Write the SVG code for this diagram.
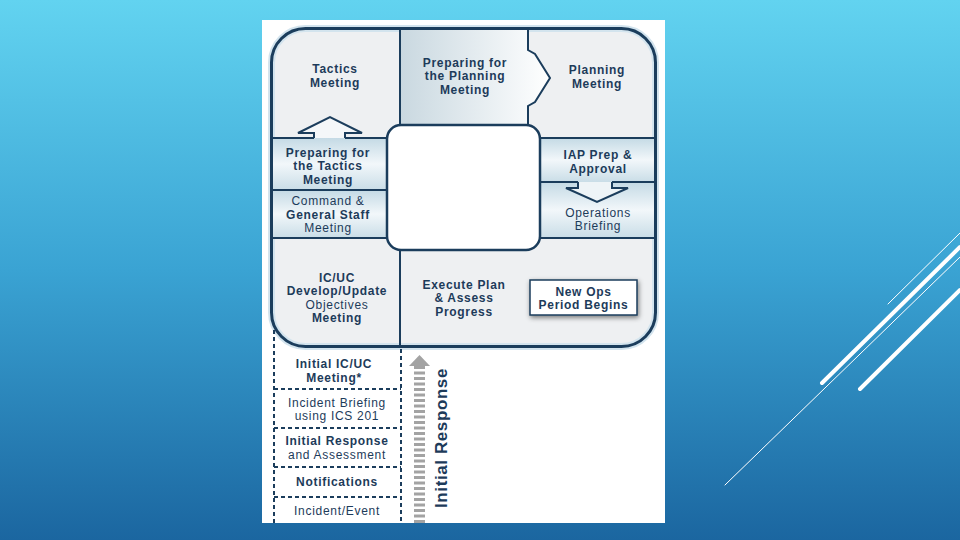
<svg xmlns="http://www.w3.org/2000/svg" width="960" height="540" viewBox="0 0 960 540">
<defs>
<linearGradient id="bg" x1="0" y1="0" x2="0" y2="1">
<stop offset="0" stop-color="#62d3f0"/>
<stop offset="0.5" stop-color="#3aa3d3"/>
<stop offset="1" stop-color="#1b66a0"/>
</linearGradient>
<linearGradient id="gh" x1="0" y1="0" x2="1" y2="0">
<stop offset="0" stop-color="#c9d8e0"/>
<stop offset="1" stop-color="#ffffff"/>
</linearGradient>
<linearGradient id="gv" x1="0" y1="0" x2="0" y2="1">
<stop offset="0" stop-color="#c4dae5"/>
<stop offset="0.5" stop-color="#f2f7fa"/>
<stop offset="1" stop-color="#c9dde7"/>
</linearGradient>
<filter id="sh" x="-20%" y="-30%" width="140%" height="160%">
<feGaussianBlur in="SourceAlpha" stdDeviation="2.5"/>
<feOffset dx="1" dy="2"/>
<feComponentTransfer><feFuncA type="linear" slope="0.5"/></feComponentTransfer>
<feMerge><feMergeNode/><feMergeNode in="SourceGraphic"/></feMerge>
</filter>
<style>
.t{font-family:"Liberation Sans",Arial,sans-serif;font-size:12px;letter-spacing:0.7px;font-weight:bold;fill:#1d3b5a;text-anchor:middle}
.n{font-weight:normal}
.ln{stroke:#1b3d5c;stroke-width:2;fill:none}
.dl{stroke:#1b3d5c;stroke-width:2;stroke-dasharray:4 3;fill:none}
.wl{stroke:#ffffff;fill:none;stroke-linecap:round}
</style>
</defs>
<rect x="0" y="0" width="960" height="540" fill="url(#bg)"/>
<g id="deco">
<line class="wl" x1="888" y1="304" x2="960" y2="233" stroke-width="1"/>
<line class="wl" x1="822" y1="383" x2="960" y2="247" stroke-width="4"/>
<line class="wl" x1="725" y1="485" x2="960" y2="257" stroke-width="1"/>
<line class="wl" x1="860" y1="389" x2="960" y2="290" stroke-width="4"/>
</g>
<rect x="262" y="20" width="403" height="503" fill="#ffffff"/>
<rect x="271.5" y="28.5" width="384" height="318" rx="34" fill="#eef0f2" stroke="#d3e4ee" stroke-width="7"/>

<g id="tactics-meeting">
<text class="t" x="335" y="73">Tactics</text>
<text class="t" x="335" y="86.5">Meeting</text>
</g>
<g id="prep-planning">
<path d="M400,28.5 H528 V50 L535,54 L550,78 L535,102 L528,106 V125 H400 Z" fill="url(#gh)"/>
<path class="ln" d="M400,28 V125 M528,28 V50 L535,54 L550,78 L535,102 L528,106 V125"/>
<text class="t" x="465" y="66.5">Preparing for</text>
<text class="t" x="465" y="80">the Planning</text>
<text class="t" x="465" y="93.5">Meeting</text>
</g>
<g id="planning-meeting">
<text class="t" x="597" y="74">Planning</text>
<text class="t" x="597" y="87.5">Meeting</text>
</g>
<g id="prep-tactics">
<rect x="272" y="138" width="115" height="52" fill="url(#gv)"/>
<text class="t" x="328" y="156.5">Preparing for</text>
<text class="t" x="328" y="170">the Tactics</text>
<text class="t" x="328" y="183.5">Meeting</text>
</g>
<g id="command-staff">
<rect x="272" y="190" width="115" height="48" fill="url(#gv)"/>
<text class="t n" x="328" y="205">Command &amp;</text>
<text class="t" x="328" y="218.5">General Staff</text>
<text class="t n" x="328" y="232">Meeting</text>
</g>
<g id="iap-prep">
<rect x="540" y="138" width="116" height="44" fill="url(#gv)"/>
<text class="t" x="598" y="159">IAP Prep &amp;</text>
<text class="t" x="598" y="172.5">Approval</text>
</g>
<g id="ops-briefing">
<rect x="540" y="182" width="116" height="56" fill="url(#gv)"/>
<text class="t n" x="598" y="216.5">Operations</text>
<text class="t n" x="598" y="230">Briefing</text>
</g>
<g id="grid-lines">
<path class="ln" d="M272,138 H314 M345,138 H387 M272,190 H387 M272,238 H387 M540,138 H656 M540,182 H578 M612,182 H656 M540,238 H656 M400,250 V347"/>
</g>
<g id="center">
<rect x="387" y="125" width="153" height="125" rx="14" fill="#ffffff" stroke="#1b3d5c" stroke-width="2.5"/>
</g>
<g id="icuc-objectives">
<text class="t" x="337" y="281.5">IC/UC</text>
<text class="t" x="337" y="295">Develop/Update</text>
<text class="t n" x="337" y="308.5">Objectives</text>
<text class="t" x="337" y="322">Meeting</text>
</g>
<g id="execute-plan">
<text class="t" x="464" y="288.5">Execute Plan</text>
<text class="t" x="464" y="302">&amp; Assess</text>
<text class="t" x="464" y="315.5">Progress</text>
</g>
<g id="new-ops">
<rect x="530" y="280" width="107" height="35" fill="#ffffff" stroke="#1b3d5c" stroke-width="1.5" filter="url(#sh)"/>
<text class="t" x="583.5" y="295.5">New Ops</text>
<text class="t" x="583.5" y="309">Period Begins</text>
</g>
<rect x="271.5" y="28.5" width="384" height="318" rx="34" fill="none" stroke="#1b3d5c" stroke-width="3"/>

<g id="initial-section">
<path class="dl" d="M274,330 V523 M401,349 V523 M274,389 H401 M274,428 H401 M274,467 H401 M274,497 H401"/>
</g>
<g id="initial-icuc">
<text class="t" x="334" y="368">Initial IC/UC</text>
<text class="t" x="334" y="381.5">Meeting*</text>
</g>
<g id="incident-briefing">
<text class="t n" x="337" y="406.5">Incident Briefing</text>
<text class="t n" x="337" y="420">using ICS 201</text>
</g>
<g id="initial-response">
<text class="t" x="337" y="445">Initial Response</text>
<text class="t n" x="337" y="458.5">and Assessment</text>
</g>
<g id="notifications">
<text class="t" x="337" y="486">Notifications</text>
</g>
<g id="incident-event">
<text class="t n" x="337" y="515">Incident/Event</text>
</g>

<g id="connectors">
<path d="M314,138 V133 H298 L330,117 L362,133 H345 V138" fill="#f4f7f9" stroke="#1b3d5c" stroke-width="2"/>
<path d="M578,182 V188 H566 L597,202 L628,188 H612 V182" fill="#eef4f7" stroke="#1b3d5c" stroke-width="2"/>
<line x1="419.5" y1="366" x2="419.5" y2="523" stroke="#a3a3a3" stroke-width="11" stroke-dasharray="3 2.5"/>
<polygon points="409,366 419.5,355 430,366" fill="#a3a3a3"/>
</g>
<text class="t" transform="translate(447,438) rotate(-90)" style="font-size:17px;letter-spacing:0.6px">Initial Response</text>
</svg>
